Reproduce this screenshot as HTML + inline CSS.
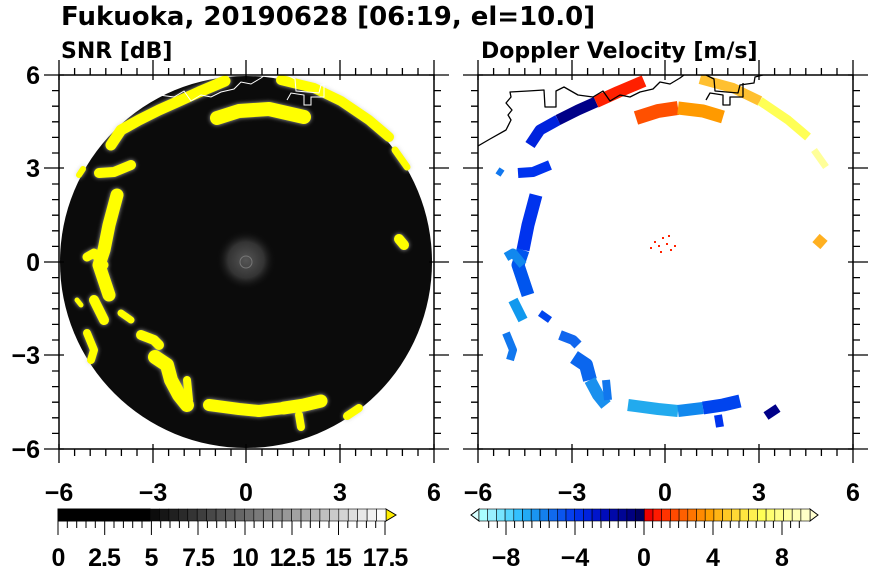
<!DOCTYPE html>
<html><head><meta charset="utf-8"><style>
body{margin:0;background:#fff}
svg{display:block}
.t{font-family:"DejaVu Sans","Liberation Sans",sans-serif;font-weight:bold;fill:#000}
.n{font-family:"Liberation Sans",sans-serif;font-weight:bold;font-size:25px;fill:#000}
</style></head><body>
<svg width="870" height="570" viewBox="0 0 870 570" xmlns="http://www.w3.org/2000/svg">
<defs>
<filter id="bl" x="-20%" y="-20%" width="140%" height="140%"><feGaussianBlur stdDeviation="2"/></filter>
<radialGradient id="cg"><stop offset="0" stop-color="#555"/><stop offset="0.6" stop-color="#333"/><stop offset="1" stop-color="#0a0a0a" stop-opacity="0"/></radialGradient>
<clipPath id="pc"><rect x="0" y="0" width="375" height="374"/></clipPath>
<g id="shp">
<polyline points="52,70 62,55 80,45 100,35 118,27 140,17 166,6" stroke-width="11"/>
<polyline points="158,43 180,36 210,34 245,42" stroke-width="14"/>
<polyline points="222,5 255,13 282,26 310,45 330,62" stroke-width="10"/>
<polyline points="336,75 348,92" stroke-width="7"/>
<polyline points="340,164 345,170" stroke-width="10"/>
<polyline points="40,98 55,97 72,90" stroke-width="10"/>
<polyline points="20,100 24,94" stroke-width="6"/>
<polyline points="58,120 50,150 45,175 40,190 45,205 50,220" stroke-width="13"/>
<polyline points="28,182 35,178 45,190" stroke-width="9"/>
<polyline points="35,225 45,245" stroke-width="10"/>
<polyline points="28,258 35,275 32,285" stroke-width="8"/>
<polyline points="18,225 22,230" stroke-width="5"/>
<polyline points="62,238 72,245" stroke-width="7"/>
<polyline points="82,260 95,265 100,270" stroke-width="10"/>
<polyline points="96,282 108,290 112,305 120,320 128,330" stroke-width="14"/>
<polyline points="128,305 130,325" stroke-width="8"/>
<polyline points="150,330 180,334 200,336" stroke-width="12"/>
<polyline points="200,336 225,333" stroke-width="12"/>
<polyline points="225,333 245,330 262,326" stroke-width="13"/>
<polyline points="240,340 242,352" stroke-width="8"/>
<polyline points="288,341 300,333" stroke-width="8"/>
</g>
</defs>
<text class="t" x="61" y="25" font-size="26">Fukuoka, 20190628 [06:19, el=10.0]</text>
<text class="t" x="61" y="58" font-size="22">SNR [dB]</text>
<text class="t" x="481" y="58" font-size="22">Doppler Velocity [m/s]</text>

<!-- LEFT PANEL -->
<g transform="translate(59,75)" clip-path="url(#pc)">
<circle cx="187" cy="187" r="186" fill="#0b0b0b"/>
<circle cx="187" cy="185" r="30" fill="url(#cg)"/>
<circle cx="187" cy="187" r="6" fill="none" stroke="#777" stroke-width="1"/>
<g fill="none" stroke-linecap="round" stroke-linejoin="round">
<g stroke="#cfcfcf" filter="url(#bl)" opacity="0.8" transform="translate(0,0)">
<use href="#shp" style="stroke-width:1"/>
</g>
<g stroke="#ffff00"><use href="#shp"/></g>
</g>
<path d="M0,71 L12,64 28,55 33,45 30,40 34,35 28,28 33,22 32,17 50,16 66,15 67,32 78,32 78,16 86,12 100,20 115,22 125,16 132,26 142,20 152,22 162,17 175,14 182,7 192,9 202,3 206,0 M228,0 L236,4 237,16 260,18 262,10 276,8 277,2 285,0 M228,25 L232,18 245,20 245,30 252,30 252,22 265,22 265,8" fill="none" stroke="#fff" stroke-width="1"/>
</g>

<!-- RIGHT PANEL -->
<g transform="translate(478,75)" clip-path="url(#pc)" fill="none" stroke-linejoin="round">
<polyline points="52,70 62,55 80,45" stroke="#0022dd" stroke-width="11"/>
<polyline points="80,45 100,35 118,27" stroke="#000088" stroke-width="11"/>
<polyline points="118,27 140,17 166,6" stroke="#ff2000" stroke-width="12"/>
<polyline points="158,43 180,36 200,33" stroke="#ff5000" stroke-width="14"/>
<polyline points="200,33 225,36 245,42" stroke="#ff9a00" stroke-width="13"/>
<polyline points="222,4 255,13 282,26" stroke="#ffc030" stroke-width="10"/>
<polyline points="282,26 310,45 330,62" stroke="#ffff55" stroke-width="9"/>
<polyline points="336,75 348,92" stroke="#ffff99" stroke-width="7"/>
<polyline points="338,163 346,170" stroke="#ffb020" stroke-width="11"/>
<polyline points="40,98 55,97 72,90" stroke="#0033ee" stroke-width="10"/>
<polyline points="20,100 24,94" stroke="#1177ee" stroke-width="6"/>
<polyline points="58,120 50,150 45,175" stroke="#0033ee" stroke-width="13"/>
<polyline points="45,175 40,190 45,205 50,220" stroke="#0055ee" stroke-width="13"/>
<polyline points="28,182 35,178 45,190" stroke="#1188ee" stroke-width="9"/>
<polyline points="35,225 45,245" stroke="#1199ee" stroke-width="10"/>
<polyline points="28,258 35,275 32,285" stroke="#1177ee" stroke-width="8"/>
<polyline points="62,238 72,245" stroke="#0044ee" stroke-width="7"/>
<polyline points="82,260 95,265 100,270" stroke="#1166ee" stroke-width="10"/>
<polyline points="96,282 108,290 112,305" stroke="#0a66ee" stroke-width="14"/>
<polyline points="112,305 120,320 128,330" stroke="#1a90ee" stroke-width="12"/>
<polyline points="128,305 130,325" stroke="#1177ee" stroke-width="8"/>
<polyline points="150,330 180,334 200,336" stroke="#22aaee" stroke-width="12"/>
<polyline points="200,336 225,333" stroke="#1188ee" stroke-width="12"/>
<polyline points="225,333 245,330 262,326" stroke="#0044ee" stroke-width="13"/>
<polyline points="240,340 242,352" stroke="#0033ee" stroke-width="8"/>
<polyline points="288,341 300,333" stroke="#000088" stroke-width="9"/>
<g fill="#ff2200" stroke="none"><rect x="176" y="166" width="2" height="2"/><rect x="180" y="170" width="2" height="2"/><rect x="184" y="162" width="2" height="2"/><rect x="188" y="168" width="2" height="2"/><rect x="182" y="176" width="2" height="2"/><rect x="192" y="174" width="2" height="2"/><rect x="172" y="172" width="2" height="2"/><rect x="190" y="160" width="2" height="2"/><rect x="196" y="170" width="2" height="2"/></g>
<path d="M0,71 L12,64 28,55 33,45 30,40 34,35 28,28 33,22 32,17 50,16 66,15 67,32 78,32 78,16 86,12 100,20 115,22 125,16 132,26 142,20 152,22 162,17 175,14 182,7 192,9 202,3 206,0 M228,0 L236,4 237,16 260,18 262,10 276,8 277,2 285,0 M228,25 L232,18 245,20 245,30 252,30 252,22 265,22 265,8" stroke="#000" stroke-width="1.3"/>
</g>

<g stroke="#000" fill="none">
<rect x="59" y="75" width="375" height="374" stroke-width="1.5"/>
<rect x="478" y="75" width="375" height="374" stroke-width="1.5"/>
<path id="tk" stroke-width="1.3" d="
M59,60V80M153,60V80M246,60V80M340,60V80M434,60V80
M59,444V463M153,444V463M246,444V463M340,444V463M434,444V463
M44,75H64M44,168H64M44,262H64M44,355H64M44,449H64
M429,75H449M429,168H449M429,262H449M429,355H449M429,449H449
M74.6,68V75M90.2,68V75M105.8,68V75M121.4,68V75M137,68V75M168.6,68V75M184.2,68V75M199.8,68V75M215.4,68V75M231,68V75M262,68V75M277.6,68V75M293.2,68V75M308.8,68V75M324.4,68V75M355.6,68V75M371.2,68V75M386.8,68V75M402.4,68V75M418,68V75
M74.6,449V456M90.2,449V456M105.8,449V456M121.4,449V456M137,449V456M168.6,449V456M184.2,449V456M199.8,449V456M215.4,449V456M231,449V456M262,449V456M277.6,449V456M293.2,449V456M308.8,449V456M324.4,449V456M355.6,449V456M371.2,449V456M386.8,449V456M402.4,449V456M418,449V456
M52,90.6H59M52,106.2H59M52,121.8H59M52,137.4H59M52,153H59M52,184H59M52,199.6H59M52,215.2H59M52,230.8H59M52,246.4H59M52,277.6H59M52,293.2H59M52,308.8H59M52,324.4H59M52,340H59M52,371H59M52,386.6H59M52,402.2H59M52,417.8H59M52,433.4H59
M434,90.6H441M434,106.2H441M434,121.8H441M434,137.4H441M434,153H441M434,184H441M434,199.6H441M434,215.2H441M434,230.8H441M434,246.4H441M434,277.6H441M434,293.2H441M434,308.8H441M434,324.4H441M434,340H441M434,371H441M434,386.6H441M434,402.2H441M434,417.8H441M434,433.4H441"/>
<use href="#tk" x="419"/>
</g>

<g class="n" text-anchor="middle">
<text x="59" y="501">−6</text><text x="153" y="501">−3</text><text x="246" y="501">0</text><text x="340" y="501">3</text><text x="434" y="501">6</text>
<text x="478" y="501">−6</text><text x="572" y="501">−3</text><text x="665" y="501">0</text><text x="759" y="501">3</text><text x="853" y="501">6</text>
</g>
<g class="n" text-anchor="end">
<text x="40" y="84">6</text><text x="40" y="177">3</text><text x="40" y="271">0</text><text x="40" y="364">−3</text><text x="40" y="458">−6</text>
</g>

<g stroke="#000" stroke-width="1">
<rect x="58" y="509" width="92" height="12" fill="#000"/>
<polygon points="386,509 396,515 386,521" fill="#ffee00"/>
<path d="M58,521V535M104.7,521V535M151.4,521V535M198,521V535M245,521V535M292,521V535M338.5,521V535M385,521V535
M67.3,521V528M76.7,521V528M86,521V528M95.3,521V528M114,521V528M123.4,521V528M132.7,521V528M142,521V528M160.7,521V528M170,521V528M179.4,521V528M188.7,521V528M207.4,521V528M216.7,521V528M226,521V528M235.4,521V528M254.1,521V528M263.4,521V528M272.7,521V528M282,521V528M301,521V528M310.3,521V528M319.6,521V528M329,521V528M347.8,521V528M357,521V528M366.4,521V528M375.7,521V528"/>
</g>
<g class="n" text-anchor="middle" style="letter-spacing:-1px">
<text x="58" y="566">0</text><text x="104" y="566">2.5</text><text x="151" y="566">5</text><text x="198" y="566">7.5</text><text x="245" y="566">10</text><text x="292" y="566">12.5</text><text x="338" y="566">15</text><text x="385" y="566">17.5</text>
</g>

<g stroke="#000" stroke-width="1">
<polygon points="479,509 471,515 479,521" fill="#d8ffff"/>
<polygon points="810,509 818,515 810,521" fill="#ffffd0"/>
<path d="M506,521V535M575,521V535M644,521V535M713,521V535M782,521V535
M488.7,521V528M497.3,521V528M514.6,521V528M523.3,521V528M531.9,521V528M540.5,521V528M549.2,521V528M557.8,521V528M566.4,521V528M583.6,521V528M592.3,521V528M601,521V528M609.6,521V528M618.2,521V528M626.8,521V528M635.4,521V528M652.6,521V528M661.3,521V528M670,521V528M678.6,521V528M687.2,521V528M695.8,521V528M704.4,521V528M721.6,521V528M730.3,521V528M739,521V528M747.6,521V528M756.2,521V528M764.8,521V528M773.4,521V528M790.6,521V528M799.3,521V528"/>
</g>
<g class="n" text-anchor="middle">
<text x="506" y="566">−8</text><text x="575" y="566">−4</text><text x="644" y="566">0</text><text x="713" y="566">4</text><text x="782" y="566">8</text>
</g>

<g stroke="#000" stroke-width="0.6">
<rect x="150" y="509" width="9.44" height="12" fill="#0c0c0c"/><rect x="159.44" y="509" width="9.44" height="12" fill="#161616"/><rect x="168.88" y="509" width="9.44" height="12" fill="#202020"/><rect x="178.32" y="509" width="9.44" height="12" fill="#2a2a2a"/><rect x="187.76" y="509" width="9.44" height="12" fill="#343434"/><rect x="197.2" y="509" width="9.44" height="12" fill="#3e3e3e"/><rect x="206.64" y="509" width="9.44" height="12" fill="#484848"/><rect x="216.08" y="509" width="9.44" height="12" fill="#525252"/><rect x="225.52" y="509" width="9.44" height="12" fill="#5c5c5c"/><rect x="234.96" y="509" width="9.44" height="12" fill="#666"/><rect x="244.4" y="509" width="9.44" height="12" fill="#707070"/><rect x="253.84" y="509" width="9.44" height="12" fill="#7a7a7a"/><rect x="263.28" y="509" width="9.44" height="12" fill="#848484"/><rect x="272.72" y="509" width="9.44" height="12" fill="#8e8e8e"/><rect x="282.16" y="509" width="9.44" height="12" fill="#989898"/><rect x="291.6" y="509" width="9.44" height="12" fill="#a2a2a2"/><rect x="301.04" y="509" width="9.44" height="12" fill="#acacac"/><rect x="310.48" y="509" width="9.44" height="12" fill="#b6b6b6"/><rect x="319.92" y="509" width="9.44" height="12" fill="#c0c0c0"/><rect x="329.36" y="509" width="9.44" height="12" fill="#cacaca"/><rect x="338.8" y="509" width="9.44" height="12" fill="#d4d4d4"/><rect x="348.24" y="509" width="9.44" height="12" fill="#dedede"/><rect x="357.68" y="509" width="9.44" height="12" fill="#e8e8e8"/><rect x="367.12" y="509" width="9.44" height="12" fill="#f2f2f2"/><rect x="376.56" y="509" width="9.44" height="12" fill="#fcfcfc"/>
</g>
<g stroke="#000" stroke-width="0.6">
<rect x="479" y="509" width="8.7" height="12" fill="#aaffff"/><rect x="487.7" y="509" width="8.7" height="12" fill="#99f0ff"/><rect x="496.4" y="509" width="8.7" height="12" fill="#77e5ff"/><rect x="505.1" y="509" width="8.7" height="12" fill="#55d5ff"/><rect x="513.8" y="509" width="8.7" height="12" fill="#33c0ff"/><rect x="522.5" y="509" width="8.7" height="12" fill="#22aaf5"/><rect x="531.2" y="509" width="8.7" height="12" fill="#1a95f0"/><rect x="539.9" y="509" width="8.7" height="12" fill="#1480ee"/><rect x="548.6" y="509" width="8.7" height="12" fill="#106aee"/><rect x="557.3" y="509" width="8.7" height="12" fill="#0a55ee"/><rect x="566" y="509" width="8.7" height="12" fill="#0640ee"/><rect x="574.7" y="509" width="8.7" height="12" fill="#0030e8"/><rect x="583.4" y="509" width="8.7" height="12" fill="#0022dd"/><rect x="592.1" y="509" width="8.7" height="12" fill="#0015cc"/><rect x="600.8" y="509" width="8.7" height="12" fill="#000cbb"/><rect x="609.5" y="509" width="8.7" height="12" fill="#0008a8"/><rect x="618.2" y="509" width="8.7" height="12" fill="#000595"/><rect x="626.9" y="509" width="8.7" height="12" fill="#000080"/><rect x="635.6" y="509" width="8.7" height="12" fill="#000060"/>
<rect x="644.3" y="509" width="8.7" height="12" fill="#ee0000"/><rect x="653" y="509" width="8.7" height="12" fill="#ff1a00"/><rect x="661.7" y="509" width="8.7" height="12" fill="#ff3300"/><rect x="670.4" y="509" width="8.7" height="12" fill="#ff4a00"/><rect x="679.1" y="509" width="8.7" height="12" fill="#ff6000"/><rect x="687.8" y="509" width="8.7" height="12" fill="#ff7500"/><rect x="696.5" y="509" width="8.7" height="12" fill="#ff8a00"/><rect x="705.2" y="509" width="8.7" height="12" fill="#ffa000"/><rect x="713.9" y="509" width="8.7" height="12" fill="#ffb515"/><rect x="722.6" y="509" width="8.7" height="12" fill="#ffc825"/><rect x="731.3" y="509" width="8.7" height="12" fill="#ffd835"/><rect x="740" y="509" width="8.7" height="12" fill="#ffe540"/><rect x="748.7" y="509" width="8.7" height="12" fill="#fff050"/><rect x="757.4" y="509" width="8.7" height="12" fill="#ffff55"/><rect x="766.1" y="509" width="8.7" height="12" fill="#ffff70"/><rect x="774.8" y="509" width="8.7" height="12" fill="#ffff88"/><rect x="783.5" y="509" width="8.7" height="12" fill="#ffffa0"/><rect x="792.2" y="509" width="8.7" height="12" fill="#ffffb5"/><rect x="800.9" y="509" width="9.1" height="12" fill="#ffffc8"/>
</g>
</svg>
</body></html>
